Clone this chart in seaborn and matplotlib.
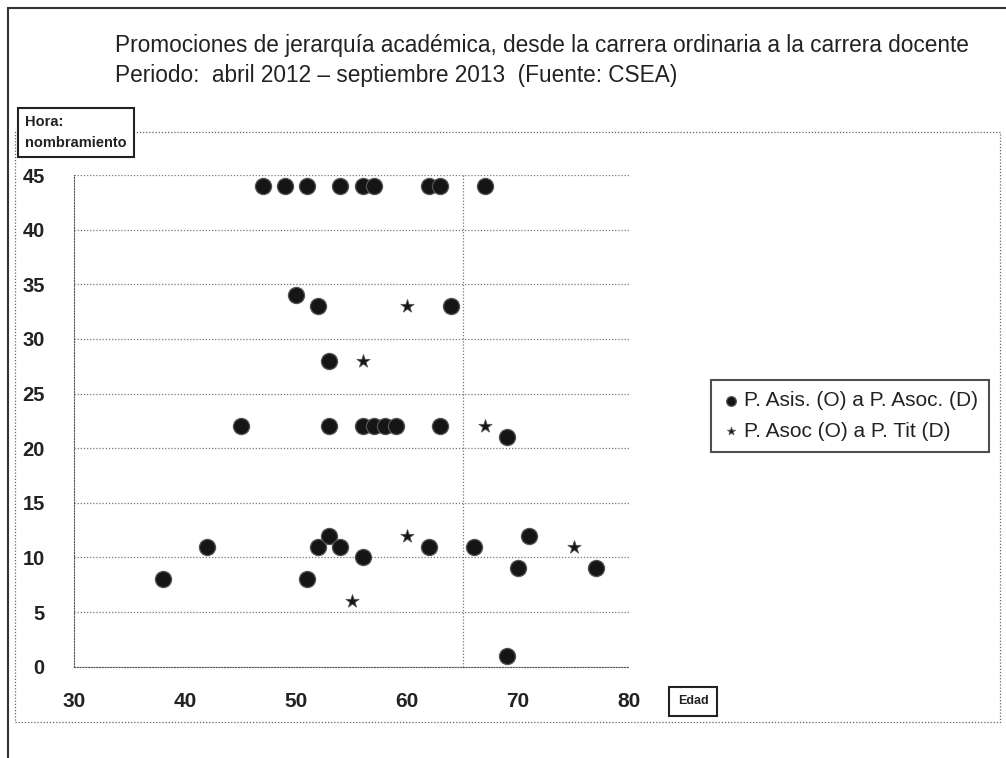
import matplotlib
matplotlib.use("Agg")
import matplotlib.pyplot as plt
import seaborn as sns
import pandas as pd
from matplotlib.patches import Rectangle

# Data (edad, horas de nombramiento)
edad_asis = [47, 49, 51, 54, 56, 57, 62, 63, 67,
             50, 52, 64, 53,
             45, 53, 56, 57, 58, 59, 63, 69,
             38, 42, 51, 52, 53, 54, 56, 62, 66, 69, 70, 71, 77]
horas_asis = [44, 44, 44, 44, 44, 44, 44, 44, 44,
              34, 33, 33, 28,
              22, 22, 22, 22, 22, 22, 22, 21,
              8, 11, 8, 11, 12, 11, 10, 11, 11, 1, 9, 12, 9]
edad_asoc = [60, 56, 67, 55, 60, 75]
horas_asoc = [33, 28, 22, 6, 12, 11]

series_labels = ["P. Asis. (O) a P. Asoc. (D)", "P. Asoc (O) a P. Tit (D)"]
title_lines = ["Promociones de jerarquía académica, desde la carrera ordinaria a la carrera docente",
               "Periodo:  abril 2012 – septiembre 2013  (Fuente: CSEA)"]
x_ticks = [30, 40, 50, 60, 70, 80]
y_ticks = [0, 5, 10, 15, 20, 25, 30, 35, 40, 45]

sns.set_style("white")
plt.rcParams["font.family"] = ["Liberation Sans", "DejaVu Sans"]

df_asis = pd.DataFrame({"edad": edad_asis, "horas": horas_asis})
df_asoc = pd.DataFrame({"edad": edad_asoc, "horas": horas_asoc})

fig = plt.figure(figsize=(10.06, 7.58), dpi=100)
ax = fig.add_axes([0.0736, 0.1204, 0.5517, 0.6487])

sns.scatterplot(data=df_asis, x="edad", y="horas", ax=ax, marker="o", s=135,
                color="#151515", edgecolor="#555555", linewidth=0.9,
                label=series_labels[0], zorder=3)
sns.scatterplot(data=df_asoc, x="edad", y="horas", ax=ax, marker="*", s=100,
                color="#151515", edgecolor="#555555", linewidth=0.6,
                label=series_labels[1], zorder=3)

ax.set_xlim(30, 80)
ax.set_ylim(0, 45)
ax.set_xticks(x_ticks)
ax.set_yticks(y_ticks)
ax.set_xlabel("")
ax.set_ylabel("")

# dotted gridlines like the scanned Excel chart
for yv in y_ticks:
    ax.axhline(yv, color="#777777", linestyle=(0, (1, 1.5)), linewidth=0.9, zorder=1)
ax.axvline(65, color="#777777", linestyle=(0, (1, 1.5)), linewidth=0.9, zorder=1)

for side in ["top", "right"]:
    ax.spines[side].set_visible(False)
for side in ["left", "bottom"]:
    ax.spines[side].set_linestyle((0, (1, 1.5)))
    ax.spines[side].set_color("#555555")

ax.tick_params(axis="x", length=5, color="#777777", pad=13, labelsize=15)
ax.tick_params(axis="y", length=0, pad=21, labelsize=14.5)
for lab in ax.get_xticklabels() + ax.get_yticklabels():
    lab.set_fontweight("bold")
    lab.set_color("#222222")

ax.get_legend().remove()
handles, labels = ax.get_legend_handles_labels()
leg = fig.legend(handles, labels, loc="center left", bbox_to_anchor=(0.707, 0.451),
                 frameon=True, fontsize=15, handletextpad=0.2, markerscale=0.6,
                 borderpad=0.55, borderaxespad=0, labelspacing=0.55, handlelength=0.8)
leg.get_frame().set_edgecolor("#222222")
leg.get_frame().set_linewidth(1.5)
leg.get_frame().set_boxstyle("square", pad=0)
for t in leg.get_texts():
    t.set_color("#222222")

# title lines
fig.text(0.114, 0.94, title_lines[0], fontsize=16.3, ha="left", va="center", color="#222222")
fig.text(0.114, 0.90, title_lines[1], fontsize=16.3, ha="left", va="center", color="#222222")

# axis titles in boxes
fig.text(0.025, 0.825, "Hora:\nnombramiento", fontsize=10.5, fontweight="bold", ha="left",
         va="center", linespacing=1.6, color="#222222",
         bbox=dict(boxstyle="square,pad=0.5", facecolor="white", edgecolor="#222222", linewidth=1.5))
fig.text(0.689, 0.0746, "Edad", fontsize=9, fontweight="bold", ha="center", va="center",
         color="#222222",
         bbox=dict(boxstyle="square,pad=0.7", facecolor="white", edgecolor="#222222", linewidth=1.5))

# chart area and outer frame
fig.patches.append(Rectangle((0.015, 0.0475), 0.979, 0.778, transform=fig.transFigure,
                             fill=False, edgecolor="#666666", linestyle=(0, (1, 1.5)),
                             linewidth=0.9, zorder=0))
fig.patches.append(Rectangle((0.008, -0.01), 1.2, 1.0, transform=fig.transFigure,
                             fill=False, edgecolor="#333333", linewidth=1.5, zorder=0))

fig.savefig("out.png", dpi=100)
